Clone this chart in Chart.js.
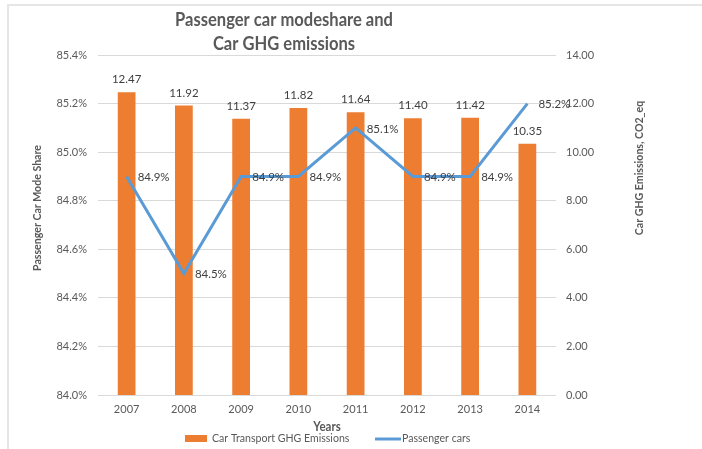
<!DOCTYPE html>
<html><head><meta charset="utf-8">
<script src="https://cdn.jsdelivr.net/npm/chart.js@4/dist/chart.umd.min.js"></script>
<style>html,body{margin:0;padding:0;background:#fff}#wrap{position:relative;width:702px;height:449px}</style>
</head><body><div id="wrap"><canvas id="c" width="702" height="449"></canvas></div>
<script>
const years = ['2007', '2008', '2009', '2010', '2011', '2012', '2013', '2014'];
const ghgEmissions = [12.47, 11.92, 11.37, 11.82, 11.64, 11.40, 11.42, 10.35];
const modeShare = [84.9, 84.5, 84.9, 84.9, 85.1, 84.9, 84.9, 85.2];
const titleLines = ['Passenger car modeshare and', 'Car GHG emissions'];
const seriesNames = ['Car Transport GHG Emissions', 'Passenger cars'];
const leftAxisTitle = 'Passenger Car Mode Share';
const rightAxisTitle = 'Car GHG Emissions, CO2_eq';
const xAxisTitle = 'Years';

const FONT = 'Lato, "Liberation Sans", Arial, sans-serif';
const ORANGE = '#ed7d31', BLUE = '#5b9bd5', TXT = '#595959', LBL = '#404040';
const CONDENSE = 0.92;

function txt(c, s, x, y) {
  const w = c.measureText(s).width;
  c.fillText(s, x, y, w * CONDENSE);
}

const decor = {
  id: 'decor',
  beforeDraw(chart) {
    const c = chart.ctx;
    c.save();
    c.fillStyle = '#fff';
    c.fillRect(0, 0, chart.width, chart.height);
    c.strokeStyle = '#e6e6e6';
    c.lineWidth = 2;
    c.beginPath();
    c.moveTo(8, 449); c.lineTo(8, 5); c.lineTo(702, 5);
    c.stroke();
    c.restore();
  },
  afterDatasetsDraw(chart) {
    const c = chart.ctx;
    c.save();
    const mb = chart.getDatasetMeta(0);
    c.font = '11.5px ' + FONT;
    c.fillStyle = LBL;
    c.textAlign = 'center';
    c.textBaseline = 'alphabetic';
    mb.data.forEach((el, i) => {
      c.fillText(ghgEmissions[i].toFixed(2), el.x, el.y - 9);
    });
    const ml = chart.getDatasetMeta(1);
    c.textAlign = 'left';
    c.textBaseline = 'middle';
    ml.data.forEach((el, i) => {
      c.fillText(modeShare[i].toFixed(1) + '%', el.x + 11, el.y + 1);
    });
    c.restore();
  },
  afterDraw(chart) {
    const c = chart.ctx;
    c.save();
    c.fillStyle = TXT;
    c.font = 'bold 18px ' + FONT;
    c.textAlign = 'center';
    c.textBaseline = 'middle';
    txt(c, titleLines[0], 284, 20);
    txt(c, titleLines[1], 284, 44);
    c.font = 'bold 12.5px ' + FONT;
    txt(c, xAxisTitle, 327, 427);
    c.font = 'bold 11.5px ' + FONT;
    c.save();
    c.translate(37, 208);
    c.rotate(-Math.PI / 2);
    txt(c, leftAxisTitle, 0, 0);
    c.restore();
    c.save();
    c.translate(639, 168);
    c.rotate(-Math.PI / 2);
    txt(c, rightAxisTitle, 0, 0);
    c.restore();
    c.fillStyle = ORANGE;
    c.fillRect(185, 435, 22, 7);
    c.strokeStyle = BLUE;
    c.lineWidth = 3;
    c.beginPath(); c.moveTo(375, 439); c.lineTo(401, 439); c.stroke();
    c.fillStyle = TXT;
    c.font = '11.5px ' + FONT;
    c.textAlign = 'left';
    txt(c, seriesNames[0], 212, 438);
    txt(c, seriesNames[1], 402, 438);
    c.restore();
  }
};

new Chart(document.getElementById('c'), {
  type: 'bar',
  data: {
    labels: years,
    datasets: [
      {
        type: 'bar', label: seriesNames[0], data: ghgEmissions, yAxisID: 'y1',
        backgroundColor: ORANGE, barPercentage: 0.31, categoryPercentage: 1.0, order: 2
      },
      {
        type: 'line', label: seriesNames[1], data: modeShare, yAxisID: 'y',
        borderColor: BLUE, borderWidth: 3, pointRadius: 0, tension: 0, fill: false, order: 1
      }
    ]
  },
  options: {
    responsive: false, animation: false, devicePixelRatio: 1,
    layout: { padding: { top: 55, left: 0, right: 0, bottom: 0 } },
    plugins: { legend: { display: false }, title: { display: false }, tooltip: { enabled: false } },
    scales: {
      x: {
        offset: true,
        grid: { display: false, drawTicks: false },
        border: { display: false },
        ticks: { font: { family: FONT, size: 11 }, color: TXT, padding: 8 },
        afterFit(s) { s.height = 54; }
      },
      y: {
        position: 'left', min: 84.0, max: 85.4,
        grid: { color: '#d9d9d9', drawTicks: false },
        border: { display: false },
        ticks: { stepSize: 0.2, font: { family: FONT, size: 11 }, color: TXT, padding: 11,
          callback: v => Number(v).toFixed(1) + '%' },
        afterFit(s) { s.width = 98; }
      },
      y1: {
        position: 'right', min: 0, max: 14,
        grid: { display: false, drawTicks: false },
        border: { display: false },
        ticks: { stepSize: 2, font: { family: FONT, size: 11 }, color: TXT, padding: 10,
          callback: v => Number(v).toFixed(2) },
        afterFit(s) { s.width = 146; }
      }
    }
  },
  plugins: [decor]
});
</script>
</body></html>
